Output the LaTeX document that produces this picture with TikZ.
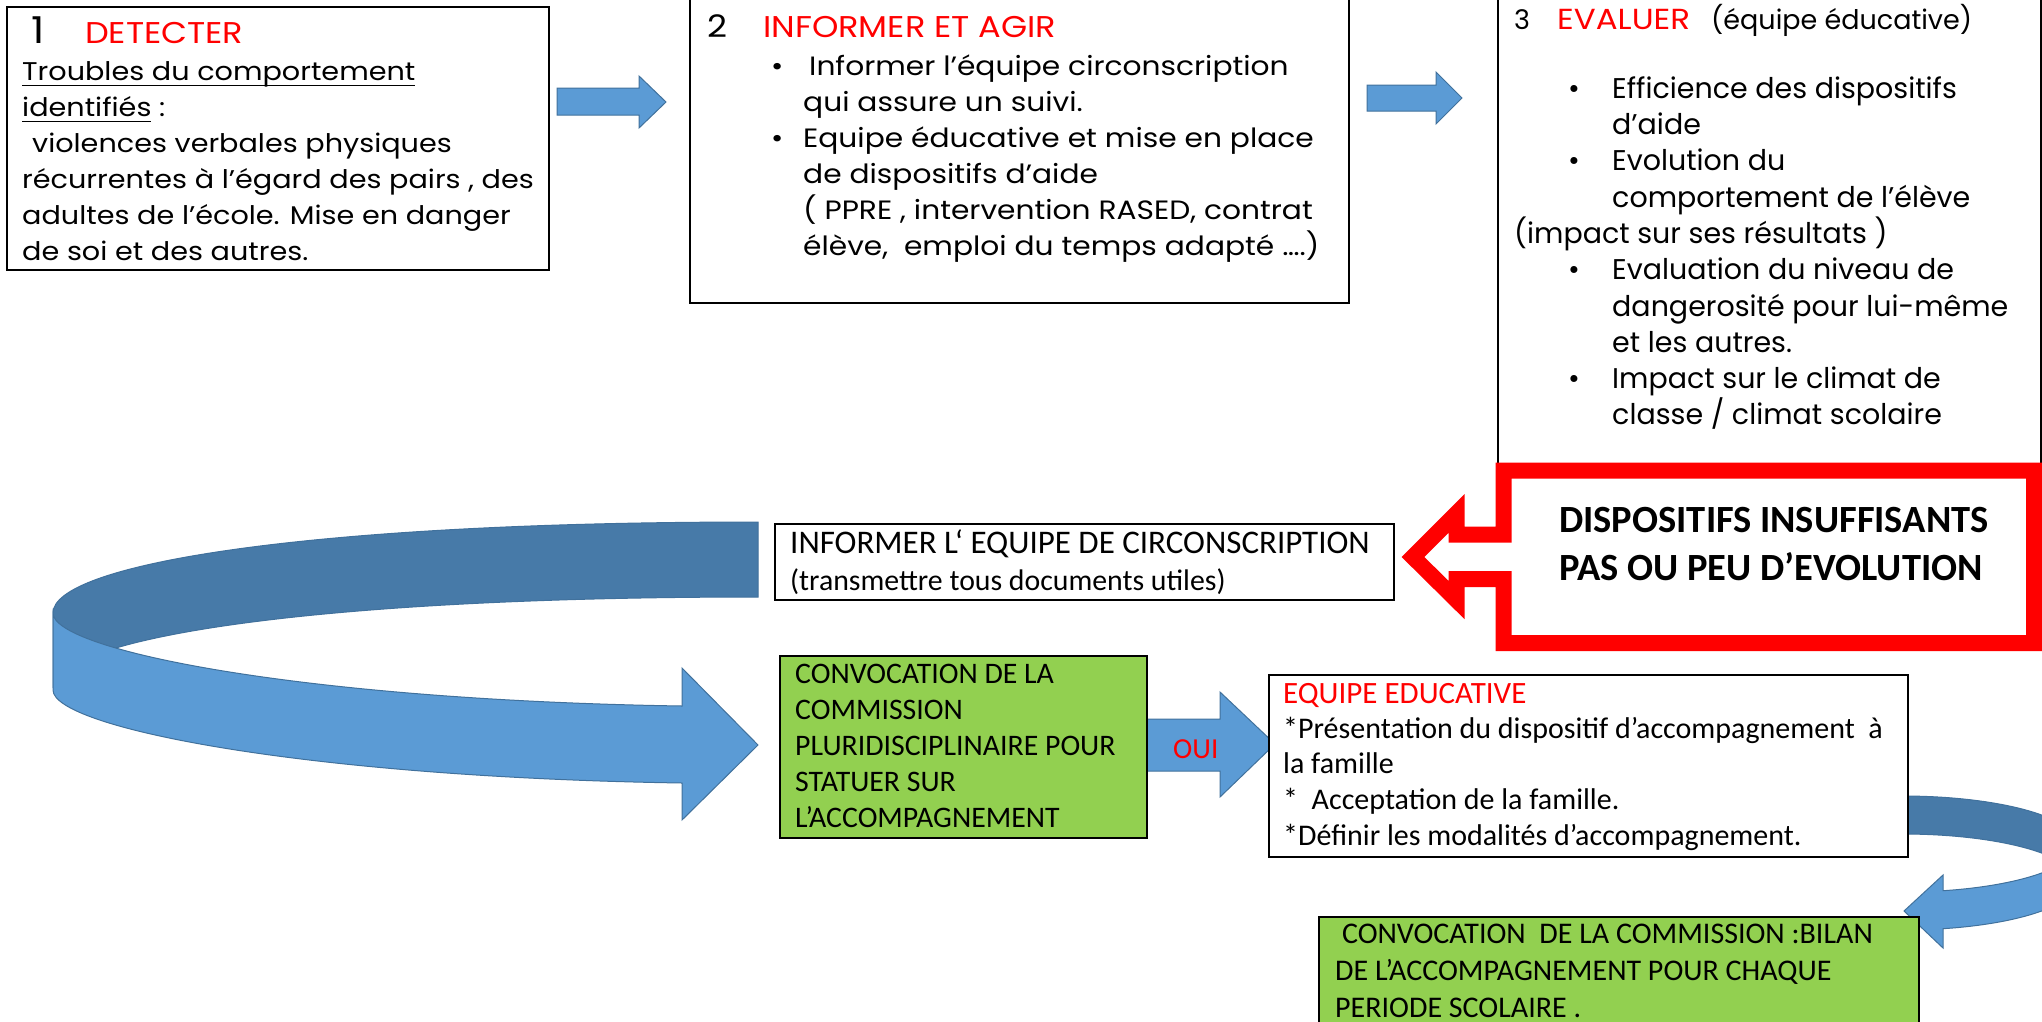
\documentclass[tikz,border=0pt]{standalone}
\usepackage{fontspec}
\setmainfont{Carlito}
\newfontfamily\twfont[FakeStretch=1.12]{Poppins}
\newfontfamily\gothfont{Poppins}
\usepackage{xcolor}
\usepackage{tikz}

\definecolor{arrowblue}{RGB}{91,155,213}
\definecolor{arrowdark}{RGB}{71,122,168}
\definecolor{arrowline}{RGB}{65,113,156}
\definecolor{boxgreen}{RGB}{146,208,80}

\newcommand\ul[1]{\setbox0\hbox{#1}\rlap{\rule[-6pt]{\wd0}{1.5pt}}\box0}
\newcommand\bul{\hspace*{18pt}\makebox[32pt][l]{\textbullet}}
\newcommand\bulx{\hspace*{54pt}\makebox[44pt][l]{\textbullet}}

\tikzset{
  box/.style={draw=black, line width=1.5pt, anchor=north west, inner sep=0pt},
  greenbox/.style={box, fill=boxgreen},
  txt/.style={anchor=north west, inner sep=0pt, align=left},
  line/.style={anchor=base west, inner sep=0pt},
  blockarrow/.style={fill=arrowblue, draw=arrowline, line width=1pt, line join=miter},
  darkband/.style={fill=arrowdark, draw=arrowline, line width=1pt},
}

\begin{document}
\begin{tikzpicture}[x=1pt, y=-1pt]
    \useasboundingbox (0,0) rectangle (2042,1021);
    \clip (0,0) rectangle (2042,1021);

    \node[box, minimum width=542, minimum height=263] (detect) at (6,6) {};
    \node[box, minimum width=659, minimum height=307] (agir) at (689,-5) {};
    \node[box, minimum width=543, minimum height=475] (evaluer) at (1497,-5) {};

    \node[line, font=\twfont\fontsize{37}{40}\selectfont] (detect-num) at (31,43) {1};
    \node[line, font=\twfont\fontsize{30}{36}\selectfont, text=red] (detect-title) at (85,43) {DETECTER};
    \node[txt, font=\twfont\fontsize{25.6}{36}\selectfont] (detect-text) at (22,54.8)
        {\strut\ul{Troubles du comportement}\\
         \ul{identifiés}\ :\\
         \hspace*{10pt}violences verbales physiques\\
         récurrentes à l’égard des pairs , des\\
         adultes de l’école. Mise en danger\\
         de soi et des autres.};

    \node[line, font=\twfont\fontsize{31}{36}\selectfont] (agir-num) at (707,37) {2};
    \node[line, font=\twfont\fontsize{30}{36}\selectfont, text=red] (agir-title) at (763,37) {INFORMER ET AGIR};
    \node[txt, font=\twfont\fontsize{26.5}{36}\selectfont] (agir-text) at (753,49.8)
        {\strut\bul\hspace*{6pt}Informer l’équipe circonscription\\
         \hspace*{50pt}qui assure un suivi.\\
         \bul Equipe éducative et mise en place\\
         \hspace*{50pt}de dispositifs d’aide\\
         \hspace*{50pt}( PPRE , intervention RASED, contrat\\
         \hspace*{50pt}élève,\ \ emploi du temps adapté ….)};

    \node[line, font=\gothfont\fontsize{27}{36}\selectfont] (evaluer-num) at (1514,29) {3};
    \node[line, font=\twfont\fontsize{29}{36}\selectfont, text=red] (evaluer-title) at (1557,29) {EVALUER};
    \node[line, font=\gothfont\fontsize{27}{36}\selectfont] (evaluer-who) at (1711,29) {(équipe éducative)};
    \node[txt, font=\gothfont\fontsize{28.5}{36.3}\selectfont] (evaluer-text) at (1514,72.6)
        {\strut\bulx Efficience des dispositifs\\
         \hspace*{98pt}d’aide\\
         \bulx Evolution du\\
         \hspace*{98pt}comportement de l’élève\\
         (impact sur ses résultats )\\
         \bulx Evaluation du niveau de\\
         \hspace*{98pt}dangerosité pour lui-même\\
         \hspace*{98pt}et les autres.\\
         \bulx Impact sur le climat de\\
         \hspace*{98pt}classe / climat scolaire};

    \fill[blockarrow] (557,88) -- (639,88) -- (639,76) -- (666,102) -- (639,128) -- (639,115) -- (557,115) -- cycle;
    \fill[blockarrow] (1367,85) -- (1436,85) -- (1436,72) -- (1462,98) -- (1436,124) -- (1436,111) -- (1367,111) -- cycle;

    \draw[red, line width=16pt, line join=miter, fill=white]
        (1503.5,534.5) -- (1456.5,534.5) -- (1456.5,513.5) -- (1413,557) -- (1456.5,600)
        -- (1456.5,579) -- (1503.5,579) -- (1503.5,643) -- (2034,643) -- (2034,470.5)
        -- (1503.5,470.5) -- cycle;
    \node[txt, font=\bfseries\fontsize{38.5}{48}\selectfont] (insuff) at (1559,498.4)
        {\strut DISPOSITIFS INSUFFISANTS\\ PAS OU PEU D’EVOLUTION};

    \node[box, minimum width=619, minimum height=76] (circo) at (774,523) {};
    \node[line, font=\fontsize{33}{36}\selectfont] (circo-title) at (790,553) {INFORMER L‘ EQUIPE DE CIRCONSCRIPTION};
    \node[line, font=\fontsize{29.8}{36}\selectfont] (circo-note) at (790,590) {(transmettre tous documents utiles)};

    \filldraw[darkband] (758,522) .. controls (300,522) and (53,565) .. (53,613)
        -- (53,688) .. controls (53,640) and (300,597) .. (758,597) -- cycle;
    \filldraw[blockarrow] (53,613) .. controls (53,650) and (300,700) .. (682,706)
        -- (682,668) -- (758,745) -- (682,820) -- (682,783)
        .. controls (300,777) and (53,727) .. (53,690) -- cycle;

    \filldraw[blockarrow] (1144,719) -- (1220,719) -- (1220,692) -- (1275,744) -- (1220,797) -- (1220,771) -- (1144,771) -- cycle;
    \node[line, font=\fontsize{29}{36}\selectfont, text=red] (oui) at (1173,758) {OUI};

    \node[greenbox, minimum width=367, minimum height=182] (commission) at (779,655) {};
    \node[txt, font=\fontsize{29.8}{36}\selectfont] (commission-text) at (795,657.8)
        {\strut CONVOCATION DE LA\\ COMMISSION\\ PLURIDISCIPLINAIRE POUR\\ STATUER SUR\\ L’ACCOMPAGNEMENT};

    \filldraw[darkband] plot[domain=90:-10, samples=40] ({1903+174*cos(\x)},{844-48*sin(\x)})
        -- plot[domain=-10:90, samples=40] ({1903+174*cos(\x)},{882-48*sin(\x)}) -- cycle;
    \filldraw[blockarrow] plot[domain=0:-76.7, samples=40] ({1903+174*cos(\x)},{844-48*sin(\x)})
        -- (1943,875) -- (1904,911) -- (1943,948)
        -- plot[domain=-76.7:0, samples=40] ({1903+174*cos(\x)},{882-48*sin(\x)}) -- cycle;

    \node[box, fill=white, minimum width=639, minimum height=182] (equipe) at (1268,674) {};
    \node[line, font=\fontsize{31}{36}\selectfont, text=red] (equipe-title) at (1283,703) {EQUIPE EDUCATIVE};
    \node[txt, font=\fontsize{30}{35.7}\selectfont] (equipe-text) at (1283,713)
        {\strut *Présentation du dispositif d’accompagnement\ \ à\\
         la famille\\
         *\ \ Acceptation de la famille.\\
         *Définir les modalités d’accompagnement.};

    \node[greenbox, minimum width=600, minimum height=120] (bilan) at (1318,916) {};
    \node[txt, font=\fontsize{30}{37}\selectfont] (bilan-text) at (1335,917.1)
        {\strut\ CONVOCATION\ \ DE LA COMMISSION :BILAN\\
         DE L’ACCOMPAGNEMENT POUR CHAQUE\\
         PERIODE SCOLAIRE .};
\end{tikzpicture}
\end{document}
